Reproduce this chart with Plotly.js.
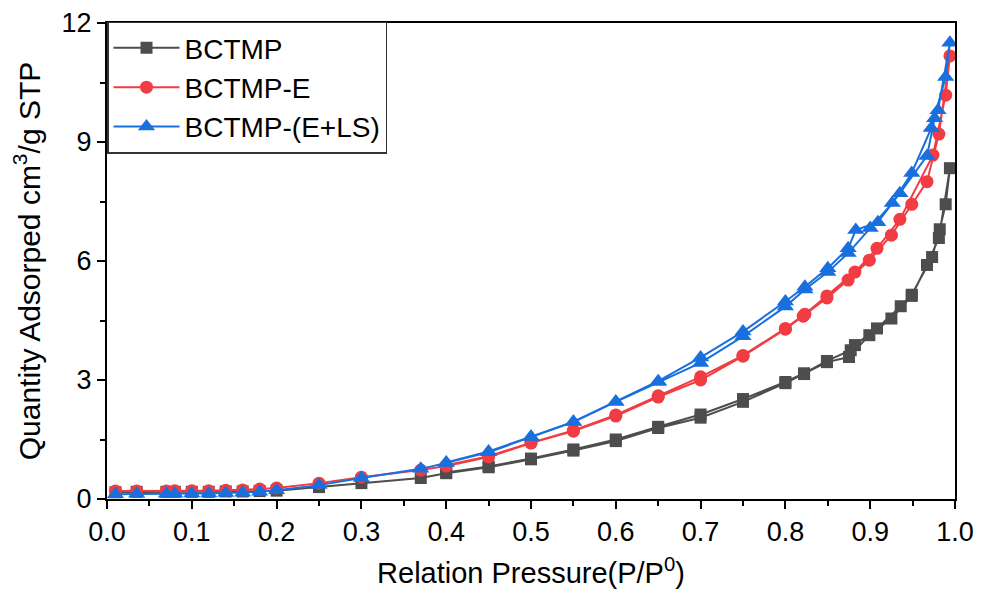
<!DOCTYPE html>
<html>
<head>
<meta charset="utf-8">
<script src="https://cdn.plot.ly/plotly-3.0.1.min.js"></script>
<style>html,body{margin:0;padding:0;background:#fff}#chart{width:986px;height:598px}</style>
</head>
<body>
<div id="chart"></div>
<script>
// Adsorption branch (relative pressure up)
const xAdsLow = [0.01, 0.035, 0.07, 0.08, 0.1, 0.12, 0.14, 0.16, 0.18, 0.2, 0.25, 0.3, 0.37, 0.4, 0.45, 0.5, 0.55, 0.6, 0.65, 0.7, 0.75, 0.8];

const bctmpAdsX = xAdsLow.concat([0.822, 0.849, 0.875, 0.899, 0.925, 0.949, 0.967, 0.981, 0.994]);
const bctmpAdsY = [0.17, 0.18, 0.18, 0.18, 0.18, 0.18, 0.19, 0.19, 0.2, 0.21, 0.3, 0.4, 0.53, 0.65, 0.8, 1.0, 1.22, 1.46, 1.79, 2.05, 2.45, 2.92,
                   3.15, 3.45, 3.58, 4.13, 4.55, 5.12, 5.9, 6.58, 8.34];
const bctmpDesX = [0.989, 0.982, 0.973, 0.949, 0.936, 0.908, 0.882, 0.877, 0.849, 0.822, 0.8, 0.75, 0.7, 0.65, 0.6, 0.55, 0.5, 0.45, 0.4];
const bctmpDesY = [7.43, 6.8, 6.1, 5.15, 4.86, 4.3, 3.88, 3.75, 3.48, 3.17, 2.95, 2.52, 2.13, 1.82, 1.5, 1.25, 1.02, 0.82, 0.67];

const eAdsX = xAdsLow.concat([0.821, 0.849, 0.874, 0.899, 0.925, 0.949, 0.967, 0.981, 0.994]);
const eAdsY = [0.2, 0.2, 0.2, 0.21, 0.21, 0.21, 0.22, 0.23, 0.25, 0.28, 0.4, 0.55, 0.73, 0.83, 1.06, 1.41, 1.71, 2.09, 2.57, 3.0, 3.6, 4.28,
               4.61, 5.07, 5.52, 6.02, 6.65, 7.43, 8.0, 9.2, 11.17];
const eDesX = [0.989, 0.974, 0.935, 0.908, 0.882, 0.849, 0.823, 0.8, 0.75, 0.7, 0.65, 0.6, 0.55, 0.5, 0.45, 0.4];
const eDesY = [10.18, 8.67, 7.05, 6.32, 5.72, 5.12, 4.66, 4.3, 3.62, 3.08, 2.6, 2.12, 1.73, 1.42, 1.08, 0.85];

const elsAdsX = xAdsLow.concat([0.823, 0.85, 0.874, 0.9, 0.926, 0.949, 0.972, 0.989, 0.994]);
const elsAdsY = [0.12, 0.13, 0.13, 0.13, 0.14, 0.14, 0.15, 0.16, 0.18, 0.22, 0.35, 0.53, 0.76, 0.91, 1.18, 1.56, 1.94, 2.45, 2.95, 3.43, 4.1, 4.85,
                 5.28, 5.72, 6.2, 6.83, 7.46, 8.22, 9.35, 10.64, 11.5];
const elsDesX = [0.98, 0.976, 0.967, 0.935, 0.909, 0.883, 0.874, 0.85, 0.823, 0.8, 0.75, 0.7, 0.65, 0.6, 0.55, 0.5, 0.45, 0.4];
const elsDesY = [9.8, 9.6, 8.65, 7.71, 6.98, 6.78, 6.32, 5.82, 5.35, 4.98, 4.22, 3.57, 2.97, 2.45, 1.95, 1.57, 1.2, 0.92];

const names = ["BCTMP", "BCTMP-E", "BCTMP-(E+LS)"];
const colors = ["#4d4d4d", "#f03c42", "#1a6fdf"];
const symbols = ["square", "circle", "triangle-up"];
const sizes = [12, 13, 15];

const xs = [bctmpAdsX.concat(bctmpDesX), eAdsX.concat(eDesX), elsAdsX.concat(elsDesX)];
const ys = [bctmpAdsY.concat(bctmpDesY), eAdsY.concat(eDesY), elsAdsY.concat(elsDesY)];

const traces = names.map((n, i) => ({
  x: xs[i], y: ys[i], name: n, type: "scatter", mode: "lines+markers",
  line: {color: colors[i], width: 2},
  marker: {color: colors[i], symbol: symbols[i], size: sizes[i]}
}));

const fam = "Liberation Sans, Arial, sans-serif";

const layout = {
  width: 986, height: 598,
  margin: {l: 107, r: 31, t: 23, b: 99},
  paper_bgcolor: "#fff", plot_bgcolor: "#fff",
  font: {family: fam, size: 27, color: "#000"},
  showlegend: true,
  legend: {
    x: 0, y: 1.003, xanchor: "left", yanchor: "top",
    bgcolor: "#fff", bordercolor: "#333", borderwidth: 1.5,
    font: {family: fam, size: 28, color: "#000"},
    itemwidth: 66, tracegroupgap: 0
  },
  xaxis: {
    range: [0, 1], dtick: 0.1, tick0: 0, tickformat: ".1f",
    showgrid: false, zeroline: false,
    showline: true, linecolor: "#000", linewidth: 2, mirror: true,
    ticks: "outside", ticklen: 8, tickwidth: 2, tickcolor: "#000",
    minor: {dtick: 0.05, ticks: "outside", ticklen: 5, tickwidth: 2, tickcolor: "#000", showgrid: false},
    tickfont: {family: fam, size: 27},
    title: {text: "Relation Pressure(P/P<sup>0</sup>)", font: {family: fam, size: 29}, standoff: 16}
  },
  yaxis: {
    range: [0, 12], dtick: 3, tick0: 0,
    showgrid: false, zeroline: false,
    showline: true, linecolor: "#000", linewidth: 2, mirror: true,
    ticks: "outside", ticklen: 8, tickwidth: 2, tickcolor: "#000",
    minor: {dtick: 1.5, ticks: "outside", ticklen: 5, tickwidth: 2, tickcolor: "#000", showgrid: false},
    tickfont: {family: fam, size: 27},
    title: {text: "Quantity Adsorped cm<sup>3</sup>/g STP", font: {family: fam, size: 30}, standoff: 12}
  }
};

Plotly.newPlot("chart", traces, layout, {displayModeBar: false, staticPlot: true});
</script>
</body>
</html>
